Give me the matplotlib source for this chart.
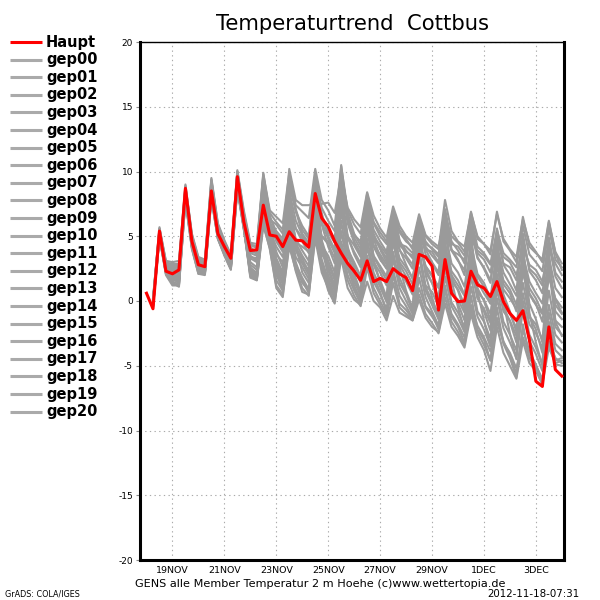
import numpy as np
import pandas as pd
import matplotlib
matplotlib.use("Agg")
import matplotlib.pyplot as plt

nan = np.nan
times = pd.date_range("2012-11-18 00:00", periods=65, freq="6h")

haupt = [0.6, -0.6, 5.4, 2.3, 2.1, 2.4, 8.7, 4.6, 2.8, 2.65, 8.5, 5.2, 4.2, 3.3, 9.6, 6.1,
         3.9, 3.95, 7.4, 5.1, 5.0, 4.2, 5.35, 4.7, 4.65, 4.15, 8.3, 6.4, 5.75, 4.6, 3.7, 2.9,
         2.3, 1.6, 3.1, 1.5, 1.75, 1.5, 2.5, 2.1, 1.8, 0.8, 3.6, 3.4, 2.7, -0.7, 3.2, 0.6,
         -0.05, 0.0, 2.3, 1.25, 1.0, 0.35, 1.5, -0.05, -0.95, -1.5, -0.75, -3.0,
         -6.2, -6.6, -2.0, -5.3, -5.8]

gep00 = [nan, -0.3, 5.2, 2.6, 2.0, 1.6, 8.4, 4.5, 2.9, 2.5, 8.8, 5.4, 4.1, 3.0, 9.4, 6.3,
         4.2, 3.6, 8.9, 6.0, 4.8, 4.0, 7.5, 5.6, 4.9, 4.3, 8.8, 6.5, 5.3, 4.5, 9.2, 6.0,
         4.5, 3.6, 6.5, 4.2, 3.2, 2.5, 5.2, 3.3, 2.6, 1.8, 4.4, 2.7, 1.9, 1.0, 3.8, 2.0,
         1.2, 0.4, 3.2, 1.5, 0.6, -0.2, 2.6, 0.9, 0.2, -0.6, 2.1, 0.5, -0.3, -1.0, 1.8, 0.2, -0.5]
gep01 = [nan, 0.1, 5.7, 3.0, 2.8, 2.9, 9.0, 5.1, 3.3, 3.1, 9.4, 5.9, 4.6, 3.5, 10.0, 6.8,
         4.4, 4.2, 9.8, 7.0, 6.5, 6.0, 9.9, 7.4, 6.9, 6.4, 10.2, 7.8, 7.0, 5.8, 10.4, 7.0,
         5.9, 5.2, 8.3, 6.0, 5.0, 4.4, 7.0, 5.3, 4.6, 4.2, 6.5, 5.0, 4.4, 4.0, 7.8, 5.4,
         4.6, 4.2, 6.8, 5.0, 4.4, 3.9, 6.7, 4.8, 4.0, 3.4, 6.3, 4.5, 3.8, 3.0, 6.1, 3.8, 2.9]
gep02 = [nan, -0.4, 5.0, 2.1, 1.5, 1.3, 7.9, 4.2, 2.3, 2.2, 8.1, 4.9, 3.6, 2.5, 8.8, 5.6,
         2.2, 1.8, 6.3, 4.3, 2.0, 1.0, 4.8, 2.8, 1.8, 0.9, 5.5, 3.0, 1.5, 0.3, 4.6, 2.5,
         1.2, 0.0, 3.5, 1.5, 0.5, -0.6, 2.4, 0.4, -0.4, -1.3, 1.0, -0.5, -1.2, -2.0, 0.8, -1.0,
         -1.8, -2.8, -0.3, -1.9, -2.8, -3.9, -1.6, -3.2, -4.0, -5.2, -2.8, -4.3, -5.0, -6.0, -3.3, -4.9, -5.0]
gep03 = [nan, -0.2, 5.5, 2.8, 2.6, 2.4, 8.7, 4.8, 3.1, 2.8, 9.1, 5.6, 4.3, 3.3, 9.7, 6.5,
         3.5, 3.1, 9.1, 6.3, 5.9, 5.2, 9.0, 6.9, 5.8, 5.0, 9.5, 7.2, 6.2, 5.4, 10.1, 6.8,
         5.2, 4.3, 7.7, 5.5, 4.6, 3.8, 6.6, 4.6, 3.9, 3.3, 6.1, 4.2, 3.5, 2.9, 6.3, 3.9,
         3.1, 2.4, 5.5, 3.3, 2.6, 1.6, 4.3, 2.2, 1.3, 0.4, 3.6, 1.5, 0.6, -0.2, 3.4, 1.0, 0.3]
gep04 = [nan, -0.5, 4.9, 2.0, 1.2, 1.2, 7.7, 4.0, 2.1, 2.0, 7.9, 4.8, 3.5, 2.4, 8.6, 5.5,
         2.0, 1.7, 6.0, 4.0, 1.2, 0.5, 4.2, 2.4, 1.0, 0.4, 5.1, 2.6, 0.8, -0.2, 3.8, 1.6,
         0.4, -0.4, 2.6, 0.6, -0.3, -1.2, 1.4, -0.5, -1.0, -1.5, 0.5, -1.0, -1.7, -2.5, -0.2, -2.0,
         -2.7, -3.6, -1.0, -2.8, -3.8, -5.4, -2.0, -4.0, -5.0, -6.0, -3.1, -4.8, -5.4, -6.4, -3.6, -4.8, -4.6]
gep05 = [nan, 0.0, 5.3, 2.5, 2.3, 2.0, 8.3, 4.6, 2.7, 2.6, 8.6, 5.3, 4.0, 2.9, 9.2, 6.1,
         3.0, 2.6, 7.8, 5.4, 4.2, 3.4, 6.9, 4.8, 3.9, 3.1, 7.6, 5.0, 4.4, 3.3, 8.1, 4.9,
         3.8, 2.9, 6.8, 4.3, 3.6, 2.8, 5.9, 3.9, 3.3, 2.5, 5.8, 3.6, 2.9, 2.0, 5.2, 2.9,
         2.2, 1.1, 4.4, 2.1, 1.4, 0.2, 3.9, 1.6, 0.9, -0.3, 3.2, 1.0, 0.2, -0.9, 2.6, 0.1, -0.9]
gep06 = [nan, -0.3, 5.4, 2.4, 2.2, 2.2, 8.5, 4.4, 2.6, 2.4, 8.4, 5.1, 4.0, 3.1, 9.5, 6.0,
         3.8, 3.7, 8.3, 5.8, 3.8, 2.6, 6.0, 4.1, 3.3, 2.2, 6.8, 4.3, 3.5, 2.2, 7.0, 3.9,
         2.8, 1.8, 5.4, 3.0, 2.2, 1.2, 4.5, 2.3, 1.5, 0.5, 3.4, 1.2, 0.7, -0.4, 2.9, 0.6,
         0.1, -0.9, 2.5, 0.2, -0.6, -1.7, 1.5, -0.8, -1.5, -2.7, 0.6, -1.8, -2.5, -3.6, -0.3, -2.6, -3.2]
gep07 = [nan, 0.2, 5.6, 3.1, 3.0, 3.1, 8.9, 5.2, 3.4, 3.2, 9.5, 6.0, 4.7, 3.6, 10.1, 7.0,
         4.5, 4.4, 9.9, 6.6, 5.2, 4.6, 10.2, 7.8, 7.4, 7.4, 7.6, 7.5, 7.6, 6.8, 9.7, 7.2,
         6.3, 5.7, 8.4, 6.6, 5.6, 4.9, 7.3, 5.8, 5.0, 4.5, 6.7, 5.1, 4.6, 4.2, 6.5, 5.0,
         4.5, 3.8, 6.9, 4.8, 4.4, 3.6, 6.9, 4.6, 3.9, 3.0, 6.5, 4.2, 3.7, 3.2, 6.2, 3.7, 2.4]
gep08 = [nan, -0.1, 5.1, 2.3, 1.8, 1.5, 8.1, 4.3, 2.4, 2.3, 8.3, 5.0, 3.8, 2.7, 9.0, 5.8,
         2.6, 2.1, 7.2, 4.6, 2.6, 1.5, 8.6, 4.4, 2.2, 1.4, 9.1, 4.6, 2.4, 1.0, 8.8, 3.8,
         1.8, 0.6, 7.6, 3.2, 1.4, 0.1, 6.4, 2.6, 0.8, -0.6, 5.9, 2.0, 0.3, -1.4, 6.6, 1.6,
         -0.5, -2.3, 5.2, 0.8, -1.5, -3.5, 5.0, -0.1, -2.5, -4.5, 4.6, -0.9, -3.2, -5.0, 3.8, -1.6, -2.7]
gep09 = [nan, -0.2, 5.3, 2.7, 2.5, 2.6, 8.6, 4.7, 3.0, 2.7, 9.0, 5.5, 4.2, 3.2, 9.8, 6.4,
         4.0, 3.9, 9.5, 6.4, 5.4, 4.8, 9.5, 7.1, 5.5, 4.8, 9.8, 6.8, 5.0, 4.0, 10.5, 6.5,
         4.6, 3.7, 8.0, 5.2, 4.0, 3.0, 7.1, 4.7, 3.5, 2.8, 6.2, 4.0, 3.0, 2.2, 7.0, 4.0,
         3.2, 2.0, 6.0, 3.4, 2.5, 1.4, 5.6, 2.8, 2.0, 0.8, 5.2, 2.3, 1.6, 0.6, 4.4, 1.9, 1.0]
gep10 = [nan, -0.4, 4.9, 2.2, 1.4, 1.1, 7.8, 4.1, 2.2, 2.1, 8.0, 4.8, 3.7, 2.6, 8.9, 5.6,
         2.4, 1.9, 6.6, 4.5, 2.3, 0.8, 5.3, 3.0, 1.6, 0.6, 6.0, 3.2, 1.7, 0.5, 5.4, 2.7,
         1.0, 0.2, 4.2, 1.9, 0.7, -0.9, 3.3, 1.0, 0.0, -1.0, 2.6, 0.3, -0.8, -1.9, 1.9, -0.4,
         -1.3, -2.4, 1.1, -1.2, -2.2, -3.5, 0.2, -2.1, -3.2, -4.4, -0.7, -3.1, -4.1, -5.4, -1.6, -3.8, -4.3]
gep11 = [nan, 0.0, 5.5, 2.9, 2.7, 2.7, 8.8, 4.9, 3.2, 2.9, 9.2, 5.7, 4.4, 3.4, 9.9, 6.6,
         3.3, 3.0, 8.6, 5.9, 4.6, 3.8, 7.9, 5.6, 4.6, 3.7, 8.4, 5.9, 4.2, 2.9, 8.6, 5.0,
         3.6, 2.6, 7.3, 4.8, 3.4, 2.5, 6.2, 4.3, 3.8, 3.5, 5.1, 4.0, 3.8, 3.0, 5.5, 3.9,
         3.6, 3.2, 4.8, 3.9, 3.5, 2.8, 4.5, 3.4, 3.0, 2.0, 4.2, 2.8, 2.4, 1.5, 4.0, 2.9, 2.0]
gep12 = [nan, -0.3, 5.2, 2.4, 2.1, 1.9, 8.2, 4.4, 2.8, 2.6, 8.5, 5.2, 3.9, 2.8, 9.1, 5.9,
         1.9, 1.6, 6.2, 4.4, 2.8, 1.8, 6.4, 3.9, 2.9, 2.0, 7.2, 4.1, 2.0, 0.8, 7.5, 3.6,
         2.1, 0.7, 5.8, 2.8, 1.6, 0.3, 4.9, 1.8, 0.6, -0.5, 4.1, 1.1, 0.0, -1.0, 4.7, 0.9,
         -0.2, -1.5, 3.6, 0.3, -0.8, -2.3, 3.1, -0.4, -1.6, -3.2, 2.8, -1.2, -2.2, -4.0, 2.6, -1.5, -2.0]
gep13 = [nan, -0.1, 5.4, 2.6, 2.4, 2.3, 8.6, 4.6, 2.9, 2.5, 8.7, 5.3, 4.1, 3.0, 9.3, 6.2,
         3.4, 3.3, 8.0, 5.5, 3.6, 3.0, 5.2, 4.5, 4.2, 3.8, 6.2, 5.0, 4.6, 3.9, 6.8, 5.0,
         4.3, 3.4, 7.0, 4.9, 4.1, 3.3, 5.6, 4.0, 2.8, 1.7, 4.8, 2.5, 1.4, 0.3, 3.5, 1.5,
         0.9, -0.3, 2.9, 0.7, 0.1, -1.0, 2.1, -0.3, -1.0, -2.1, 1.4, -1.2, -1.8, -3.0, 0.8, -2.0, -2.6]
gep14 = [nan, -0.5, 5.0, 2.2, 1.7, 1.4, 8.0, 4.2, 2.5, 2.2, 8.2, 4.9, 3.6, 2.5, 8.7, 5.7,
         1.8, 1.6, 5.8, 4.1, 1.0, 0.3, 4.5, 2.3, 0.7, 0.5, 4.8, 2.2, 1.0, -0.1, 3.3, 1.0,
         0.1, -0.3, 1.5, 0.0, -0.5, -1.5, 0.4, -0.9, -1.2, -1.5, 0.1, -1.3, -2.0, -2.4, 0.3, -1.6,
         -2.4, -3.4, -0.6, -2.4, -3.4, -4.6, -1.3, -3.1, -4.2, -5.6, -2.2, -3.9, -4.9, -6.2, -3.1, -4.4, -4.8]
gep15 = [nan, 0.1, 5.6, 2.9, 2.9, 2.8, 8.8, 5.0, 3.1, 3.0, 9.3, 5.8, 4.5, 3.5, 10.0, 6.7,
         4.3, 4.1, 9.6, 6.8, 6.1, 5.5, 9.6, 7.0, 5.2, 4.5, 9.4, 6.1, 4.8, 3.7, 9.9, 6.2,
         5.1, 4.6, 7.9, 6.1, 5.3, 4.6, 6.8, 5.5, 4.8, 4.0, 6.4, 4.6, 4.0, 3.4, 6.0, 4.4,
         4.2, 3.5, 6.4, 4.2, 3.7, 2.9, 5.5, 3.7, 3.2, 2.6, 5.8, 3.6, 3.0, 2.3, 5.6, 3.2, 2.6]
gep16 = [nan, -0.2, 5.3, 2.5, 2.0, 1.8, 8.3, 4.5, 2.7, 2.4, 8.6, 5.2, 3.9, 2.9, 9.2, 6.0,
         2.8, 2.4, 7.5, 5.1, 3.3, 2.2, 7.3, 4.5, 3.5, 2.7, 8.1, 4.7, 3.1, 1.8, 7.4, 4.0,
         3.0, 1.9, 6.2, 3.4, 2.5, 1.6, 5.5, 2.8, 1.9, 0.6, 5.2, 2.2, 1.4, -0.1, 5.9, 1.8,
         0.8, -0.7, 4.7, 1.0, 0.0, -1.5, 4.2, 0.5, -0.8, -2.4, 3.6, -0.2, -1.4, -3.2, 3.1, -0.8, -1.4]
gep17 = [nan, -0.4, 5.1, 2.3, 1.6, 1.6, 8.0, 4.3, 2.4, 2.2, 8.2, 5.0, 3.7, 2.7, 8.9, 5.7,
         2.3, 2.0, 6.8, 4.7, 2.4, 1.3, 5.8, 3.4, 2.6, 1.7, 6.5, 3.6, 2.9, 1.6, 6.2, 3.0,
         1.5, 0.4, 4.8, 2.2, 1.1, -0.1, 3.8, 1.4, 0.5, -0.8, 3.5, 0.8, -0.3, -1.4, 2.6, -0.1,
         -0.9, -2.0, 1.9, -0.8, -1.6, -2.9, 0.9, -1.6, -2.6, -3.8, 0.0, -2.6, -3.6, -4.9, -0.9, -3.3, -3.8]
gep18 = [nan, 0.0, 5.4, 2.7, 2.4, 2.5, 8.6, 4.7, 3.0, 2.8, 9.0, 5.5, 4.2, 3.2, 9.6, 6.3,
         3.7, 3.5, 9.3, 6.1, 5.0, 4.4, 8.5, 6.2, 5.1, 4.1, 9.0, 6.3, 5.6, 4.8, 9.5, 6.4,
         4.9, 4.0, 7.2, 5.0, 4.3, 3.6, 6.1, 4.4, 4.2, 3.7, 5.6, 4.4, 4.1, 3.6, 7.1, 4.6,
         3.9, 2.9, 6.1, 3.7, 3.2, 2.2, 5.0, 2.9, 2.6, 1.6, 4.8, 2.5, 2.0, 1.2, 4.9, 2.2, 1.5]
gep19 = [nan, -0.3, 5.2, 2.4, 1.9, 1.7, 8.2, 4.4, 2.6, 2.3, 8.4, 5.1, 3.8, 2.8, 9.1, 5.9,
         2.5, 2.2, 7.0, 4.8, 3.0, 2.0, 7.0, 4.2, 3.0, 2.4, 7.8, 4.5, 2.6, 1.2, 8.3, 4.2,
         2.5, 1.4, 6.0, 3.5, 2.7, 1.9, 4.8, 3.0, 2.3, 1.3, 4.6, 2.7, 2.0, 1.1, 4.2, 2.3,
         1.6, 0.5, 3.8, 1.9, 1.1, -0.2, 3.5, 1.3, 0.6, -0.8, 2.9, 0.6, -0.2, -1.6, 2.2, -0.3, -1.0]
gep20 = [nan, -0.5, 4.9, 2.1, 1.3, 1.2, 7.8, 4.1, 2.1, 2.1, 7.9, 4.8, 3.6, 2.5, 8.7, 5.6,
         2.1, 1.8, 6.5, 4.3, 1.6, 0.8, 5.0, 2.7, 1.4, 0.8, 5.6, 2.8, 1.2, 0.2, 4.3, 2.0,
         0.8, -0.2, 3.2, 1.0, 0.0, -1.0, 2.0, -0.2, -0.7, -1.4, 1.8, -0.4, -1.0, -2.2, 1.2, -1.2,
         -2.0, -3.2, 0.4, -2.2, -3.0, -4.6, -0.5, -3.3, -4.4, -5.9, -1.8, -4.4, -5.2, -6.5, -2.4, -4.6, -4.4]

members = [gep00, gep01, gep02, gep03, gep04, gep05, gep06, gep07, gep08, gep09, gep10,
           gep11, gep12, gep13, gep14, gep15, gep16, gep17, gep18, gep19, gep20]
member_names = ["gep%02d" % k for k in range(21)]

tick_dates = ["2012-11-19", "2012-11-21", "2012-11-23", "2012-11-25",
              "2012-11-27", "2012-11-29", "2012-12-01", "2012-12-03"]
tick_labels = ["19NOV", "21NOV", "23NOV", "25NOV", "27NOV", "29NOV", "1DEC", "3DEC"]
y_ticks = [-20, -15, -10, -5, 0, 5, 10, 15, 20]

title = "Temperaturtrend  Cottbus"
caption = "GENS alle Member Temperatur 2 m Hoehe (c)www.wettertopia.de"
left_note = "GrADS: COLA/IGES"
stamp = "2012-11-18-07:31"

plt.rcParams['font.family'] = ['DejaVu Sans']
fig = plt.figure(figsize=(6, 6), dpi=100)
fig.patch.set_facecolor("white")
ax = fig.add_axes([140/600, 40/600, 424/600, 518/600])

grey = "#9a9a9a"
for vals in members:
    ax.plot(times, vals, color=grey, lw=1.5, zorder=2)
ax.plot(times, haupt, color="#ff0000", lw=2.2, zorder=3)

ax.set_ylim(-20, 20)
ax.set_xlim(pd.Timestamp("2012-11-17 18:00"), pd.Timestamp("2012-12-04 02:00"))
ax.set_yticks(y_ticks)
ax.set_yticklabels([str(v) for v in y_ticks], fontsize=6.5)
ax.set_xticks([pd.Timestamp(d) for d in tick_dates])
ax.set_xticklabels(tick_labels, fontsize=6.8)
ax.tick_params(axis="y", length=3, width=0.8, color="#888888", pad=2, direction="out")
ax.tick_params(axis="x", length=0, pad=4)
ax.grid(True, color="#aaaaaa", lw=0.8, linestyle=(0, (1.2, 3)))
for side in ["left", "bottom", "right"]:
    ax.spines[side].set_linewidth(2.2)
ax.spines["top"].set_linewidth(1.0)

fig.text(352/600, 1 - 24/600, title, ha="center", va="center", fontsize=15.2)
fig.text(320/600, 1 - 584/600, caption, ha="center", va="center", fontsize=8.1)
fig.text(5/600, 1 - 594/600, left_note, ha="left", va="center", fontsize=5.8)
fig.text(580/600, 1 - 594/600, stamp, ha="right", va="center", fontsize=7.4)

# legend column on the left
leg = fig.add_axes([0, 0, 140/600, 1])
leg.set_xlim(0, 140)
leg.set_ylim(600, 0)
leg.axis("off")
names = ["Haupt"] + member_names
colors = ["#ff0000"] + ["#aaaaaa"] * 21
for k, (nm, c) in enumerate(zip(names, colors)):
    yy = 42 + k * 17.6
    leg.plot([10, 42], [yy, yy], color=c, lw=2.2, solid_capstyle="butt")
    leg.text(46, yy, nm, ha="left", va="center", fontsize=10.5, fontweight="bold")

fig.savefig("out.png", dpi=100, facecolor="white")
